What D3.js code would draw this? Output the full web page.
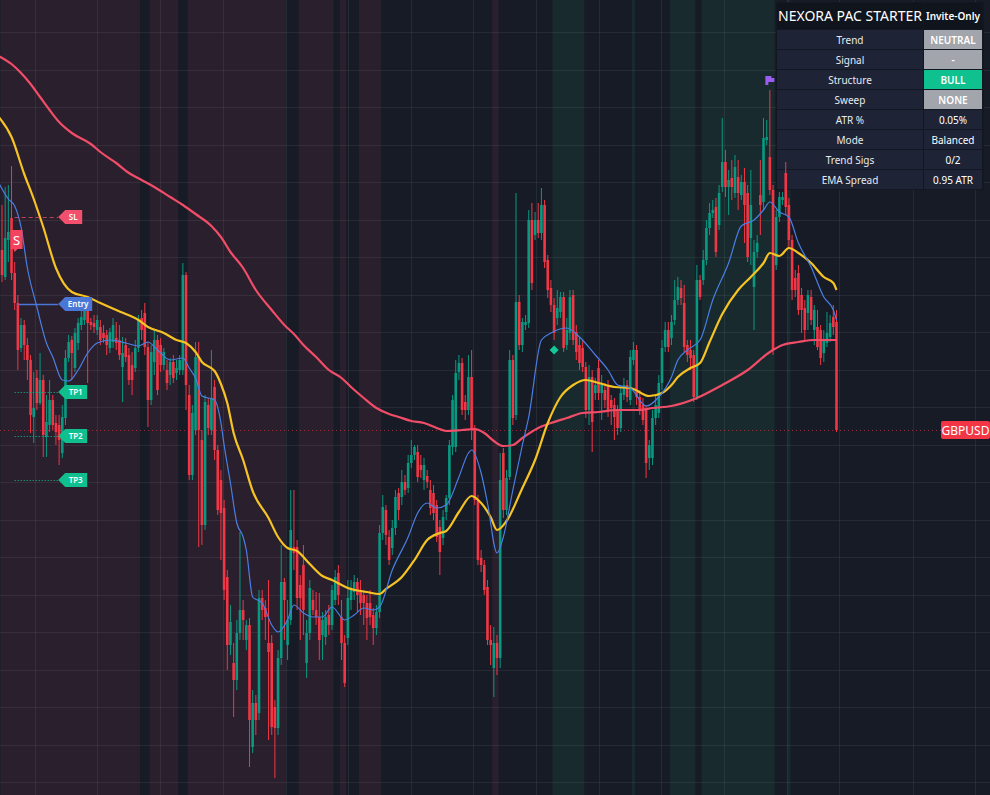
<!DOCTYPE html>
<html>
<head>
<meta charset="utf-8">
<style>
  body { margin: 0; background: #171b26; }
  svg { display: block; }
  text { font-family: "Noto Sans", "DejaVu Sans", sans-serif; }
</style>
</head>
<body>
<div id="chart"></div>
<script src="https://d3js.org/d3.v7.min.js"></script>
<script>
'use strict';

var width = 990,
    height = 795;

// GBPUSD candles, [open, high, low, close] in points above 1.27000 (1 pt = 0.00001)
var ohlc = [
  [550,595,518,525],[523,613,520,562],[560,615,538,568],[582,634,520,527],[527,538,490,497],
  [497,505,430,450],[452,482,448,475],[475,480,440,455],[455,462,420,440],[440,445,367,385],
  [383,428,357,392],[422,430,390,397],[397,447,395,420],[420,425,343,365],[363,405,343,378],
  [375,420,368,400],[400,405,370,375],[377,385,355,368],[375,385,335,360],[347,395,342,383],
  [382,450,375,442],[442,465,438,458],[460,464,420,447],[432,472,428,467],[457,482,450,477],
  [475,490,470,483],[480,500,475,495],[493,497,417,477],[478,482,470,475],[477,485,467,473],
  [470,485,465,480],[473,480,455,460],[467,475,457,462],[465,470,445,455],[452,472,447,468],
  [458,482,452,475],[462,478,450,457],[460,475,440,445],[433,463,398,447],[455,462,438,443],
  [445,452,415,420],[435,448,405,420],[432,460,428,452],[452,485,448,480],[482,490,460,470],
  [487,497,445,453],[453,458,373,400],[400,455,395,448],[438,470,425,460],[460,465,405,410],
  [455,462,428,435],[435,452,430,448],[430,440,410,417],[425,442,415,438],[438,445,417,422],
  [427,440,420,432],[430,445,425,440],[430,537,425,525],[525,528,390,415],[405,415,320,325],
  [325,395,320,387],[370,458,365,443],[443,458,253,370],[360,370,255,275],[275,405,270,398],
  [395,402,365,372],[370,450,365,402],[413,420,340,350],[350,355,285,290],[320,330,240,287],
  [292,300,200,210],[223,230,130,155],[155,195,145,178],[137,157,83,120],[120,180,110,167],
  [167,268,160,190],[190,200,160,180],[160,180,150,175],[175,182,33,80],[53,110,47,97],
  [97,105,65,80],[87,210,80,202],[202,210,180,190],[192,200,160,183],[157,220,60,148],
  [157,165,65,73],[93,100,22,72],[72,150,65,142],[142,255,135,218],[218,222,160,200],
  [155,200,140,180],[180,310,175,270],[253,310,230,247],[253,260,190,202],[215,225,160,202],
  [235,255,165,190],[137,180,122,167],[167,220,160,212],[200,210,185,190],[190,208,175,183],
  [183,207,140,160],[165,188,140,180],[163,190,155,183],[185,195,165,175],[175,215,170,210],
  [200,230,195,223],[227,235,195,205],[183,200,140,157],[157,165,113,117],[162,220,155,202],
  [200,220,190,210],[208,225,200,218],[218,222,188,205],[210,220,185,197],[205,210,175,197],
  [197,205,160,182],[197,210,175,183],[185,192,155,172],[172,195,165,188],[188,275,182,267],
  [267,305,260,293],[290,295,255,265],[263,270,235,240],[252,280,245,272],[272,310,265,303],
  [307,312,280,290],[303,330,295,318],[318,325,305,310],[312,345,307,337],[337,360,332,345],
  [345,355,340,353],[348,355,318,323],[335,345,322,330],[320,342,310,335],[324,330,312,318],
  [310,320,285,292],[307,315,280,287],[295,300,258,263],[273,280,225,248],[262,290,255,283],
  [288,305,280,302],[302,360,295,355],[353,405,345,400],[353,440,348,427],[428,445,420,437],
  [437,442,385,390],[398,405,380,390],[390,445,385,423],[423,450,360,370],[370,375,295,300],
  [300,305,235,240],[242,250,228,235],[235,240,205,210],[213,220,155,160],[160,175,135,155],
  [132,173,103,157],[157,165,125,142],[142,347,132,320],[347,352,282,290],[290,330,285,322],
  [323,450,320,440],[440,445,375,382],[385,607,380,498],[498,505,450,455],[455,482,448,478],
  [475,485,470,478],[477,590,472,580],[580,597,510,517],[565,588,560,580],[580,597,562,567],
  [567,612,560,595],[595,600,532,538],[540,545,502,510],[512,520,488,495],[495,502,460,467],
  [482,510,475,492],[488,508,482,503],[503,508,448,452],[455,482,450,470],[467,510,460,503],
  [505,510,455,460],[468,475,440,448],[455,462,430,437],[452,460,428,433],[433,438,382,390],
  [390,435,375,423],[423,430,348,378],[407,422,400,415],[432,440,400,407],[407,425,380,417],
  [410,417,392,400],[415,420,383,390],[400,405,375,392],[395,402,360,383],[390,395,365,372],
  [372,415,368,407],[405,422,400,415],[415,420,398,403],[400,450,395,443],[440,458,435,450],
  [450,455,395,403],[403,410,385,390],[395,402,375,380],[390,395,322,337],[342,360,330,355],
  [342,390,335,382],[382,405,375,395],[387,425,382,417],[417,460,410,452],[453,478,448,470],
  [470,478,448,453],[462,485,455,478],[480,520,475,500],[500,523,495,513],[512,520,495,502],
  [497,515,448,453],[455,460,438,445],[450,460,430,442],[445,450,398,403],[403,535,400,520],
  [520,525,500,503],[520,550,515,540],[540,580,535,572],[572,597,565,587],[587,600,582,590],
  [593,602,543,548],[575,615,570,607],[613,682,608,638],[638,650,603,613],[613,630,585,620],
  [622,640,600,613],[607,645,602,633],[623,640,590,607],[605,625,600,618],[618,632,557,595],
  [607,615,538,543],[562,630,535,595],[513,560,470,548],[548,565,542,557],[605,640,565,595],
  [598,682,590,662],[660,680,655,663],[643,710,605,610],[610,615,445,450],[535,590,530,583],
  [583,608,578,603],[600,608,595,603],[627,638,585,593],[595,602,552,560],[560,565,500,510],
  [522,530,503,510],[527,535,485,490],[505,512,467,490],[492,500,460,470],[487,510,470,505],
  [503,510,475,480],[470,495,455,490],[473,490,450,453],[470,475,435,442],[447,470,438,460],
  [457,488,453,467],[463,485,458,477],[483,495,465,473],[478,490,368,370]
];

// moving averages, [bar, pts]
var emaFast = [[-1,617],[2,601],[4,594],[6,573],[8,532],[11,493],[14,457],[16,443],[19,420],[21,419],
  [24,430],[27,447],[30,457],[34,460],[39,457],[43,454],[46,458],[49,450],[53,440],[57,442],
  [59,432],[61,422],[63,404],[67,400],[69,377],[70,355],[72,317],[74,277],[76,263],[77,250],
  [79,203],[82,197],[85,175],[87,168],[90,180],[92,195],[95,187],[98,183],[101,183],[104,193],
  [108,180],[111,185],[114,192],[117,190],[119,193],[123,230],[128,263],[131,287],[134,297],[137,292],
  [140,295],[144,323],[147,347],[148,350],[151,327],[153,297],[156,247],[158,263],[161,310],[164,355],
  [166,383],[170,460],[173,467],[178,472],[182,463],[187,445],[191,430],[194,415],[198,412],[203,394],
  [207,403],[211,423],[213,440],[216,450],[220,460],[224,500],[229,537],[233,574],[237,580],[240,590],
  [242,598],[245,588],[248,583],[251,557],[255,533],[259,503],[262,490],[263,480]];

var emaMid = [[-1,683],[3,663],[7,626],[10,601],[13,573],[17,532],[22,508],[27,503],[31,497],[36,490],
  [39,486],[43,480],[46,473],[51,467],[55,460],[58,457],[61,448],[63,438],[67,429],[69,416],
  [71,397],[73,367],[76,340],[79,309],[84,282],[87,263],[90,252],[93,249],[97,236],[101,224],
  [104,220],[109,212],[115,208],[119,206],[121,211],[126,223],[130,240],[134,260],[138,267],[140,269],
  [144,288],[148,304],[151,297],[154,283],[156,270],[159,279],[164,312],[168,340],[172,377],[176,403],
  [180,415],[184,420],[188,417],[193,413],[198,412],[204,404],[208,407],[211,415],[213,423],[217,432],
  [220,437],[223,458],[227,486],[232,510],[236,523],[240,537],[242,547],[245,544],[248,552],[251,547],
  [255,537],[259,523],[262,517],[263,510]];

var emaSlow = [[-1,744],[3,736],[6,727],[9,716],[12,703],[15,690],[18,678],[22,667],[28,656],[31,648],
  [36,637],[40,627],[44,620],[48,613],[53,603],[57,595],[61,586],[66,574],[69,563],[72,548],
  [76,532],[80,510],[85,490],[89,475],[92,466],[95,455],[99,443],[103,430],[107,422],[110,413],
  [114,402],[118,392],[122,386],[125,383],[129,379],[133,377],[137,372],[140,369],[145,370],[149,371],
  [152,367],[155,359],[158,354],[161,355],[164,362],[169,372],[173,377],[178,382],[183,387],[188,388],
  [194,390],[201,390],[205,392],[211,394],[219,402],[227,415],[235,430],[242,448],[246,455],[251,458],
  [256,460],[263,460]];

// trend state zones by bar range
var zones = [
  [0,43,'bear'],[47,55,'bear'],[59,89,'bear'],[94,104,'bear'],[107,108,'bear'],[113,119,'bear'],
  [155,156,'bear'],
  [174,183,'bull'],[199,199,'bull'],[211,218,'bull'],[221,243,'bull'],[248,248,'bull']
];

// time grid, in bar units
var timeGrid = [10.4, 29.9, 49.8, 69.65, 89.5, 109, 128.9, 148.4, 168.3, 188.2, 207.7, 227.6, 247.4, 263.8, 287.1, 306.6];

// trade levels
var levels = [
  {name: 'SL', pts: 583},
  {name: 'Entry', pts: 496},
  {name: 'TP1', pts: 408},
  {name: 'TP2', pts: 364},
  {name: 'TP3', pts: 320}
];
var levelFrom = 4, levelLabelAt = 17.7;

var sellSignal = {bar: 4.6, pts: 560, text: 'S'};
var bullMark = {bar: 174, pts: 450};
var sweepFlag = {bar: 242, pts: 720};

var tableTitle = ['NEXORA PAC STARTER', 'Invite-Only'];
var tableLabels = ['Trend', 'Signal', 'Structure', 'Sweep', 'ATR %', 'Mode', 'Trend Sigs', 'EMA Spread'];
var tableValues = ['NEUTRAL', '-', 'BULL', 'NONE', '0.05%', 'Balanced', '0/2', '0.95 ATR'];

var symbol = 'GBPUSD';

// ---------------------------------------------------------------

var svg = d3.select('#chart').append('svg')
    .attr('width', width).attr('height', height);

svg.append('rect').attr('width', width).attr('height', height).attr('fill', '#171b26');

var x = d3.scaleLinear().domain([0, ohlc.length - 1]).range([2, 836.5]);
var y = d3.scaleLinear().domain([0, 800]).range([800, 0]);
var step = x(1) - x(0);

// background zones
svg.append('g').selectAll('rect').data(zones).join('rect')
    .attr('x', d => Math.max(0, x(d[0]) - step / 2))
    .attr('width', d => x(d[1]) + step / 2 - Math.max(0, x(d[0]) - step / 2))
    .attr('y', 0).attr('height', height)
    .attr('fill', d => d[2] === 'bear' ? '#2a1f2d' : '#182a2d');

// grid
var grid = svg.append('g').attr('stroke', 'rgba(255,255,255,0.065)').attr('stroke-width', 1);
grid.selectAll('line.h').data(d3.range(18, 800, 37.5)).join('line').attr('class', 'h')
    .attr('x1', 0).attr('x2', width)
    .attr('y1', d => Math.round(y(d)) + 0.5).attr('y2', d => Math.round(y(d)) + 0.5);
grid.selectAll('line.v').data(timeGrid).join('line').attr('class', 'v')
    .attr('y1', 0).attr('y2', height)
    .attr('x1', d => Math.round(x(d)) + 0.5).attr('x2', d => Math.round(x(d)) + 0.5);

// info table
var tbl = svg.append('g');
tbl.append('rect').attr('x', 776).attr('y', 2).attr('width', 208).attr('height', 188).attr('fill', '#131722');
tbl.append('rect').attr('x', 777).attr('y', 3).attr('width', 146).attr('height', 26).attr('fill', '#10141d');
tbl.append('rect').attr('x', 924).attr('y', 3).attr('width', 58).attr('height', 26).attr('fill', '#10141d');
tbl.append('text').attr('x', 850).attr('y', 21).attr('text-anchor', 'middle')
    .attr('fill', '#ffffff').attr('font-size', 14).text(tableTitle[0]);
tbl.append('text').attr('x', 953).attr('y', 20).attr('text-anchor', 'middle')
    .attr('fill', '#ffffff').attr('font-size', 10).attr('font-weight', 600).text(tableTitle[1]);

function valueFill(v) {
  if (v === 'BULL') return '#0fc18e';
  if (v === 'NEUTRAL' || v === '-' || v === 'NONE') return '#a2a5ab';
  return '#1e2436';
}

var rows = tbl.selectAll('g.row').data(tableLabels).join('g').attr('class', 'row')
    .attr('transform', (d, i) => 'translate(0,' + (30 + i * 20) + ')');
rows.append('rect').attr('x', 777).attr('width', 146).attr('height', 19).attr('fill', '#1e2436');
rows.append('rect').attr('x', 924).attr('width', 58).attr('height', 19)
    .attr('fill', (d, i) => valueFill(tableValues[i]));
rows.append('text').attr('x', 850).attr('y', 13.5).attr('text-anchor', 'middle')
    .attr('fill', '#e8eaef').attr('font-size', 10).text(d => d);
rows.append('text').attr('x', 953).attr('y', 13.5).attr('text-anchor', 'middle')
    .attr('fill', '#ffffff').attr('font-size', 10)
    .attr('font-weight', (d, i) => valueFill(tableValues[i]) === '#1e2436' ? 400 : 600)
    .text((d, i) => tableValues[i]);

// last price line
var last = ohlc[ohlc.length - 1][3];
svg.append('line')
    .attr('x1', 0).attr('x2', 941).attr('y1', y(last) + 0.5).attr('y2', y(last) + 0.5)
    .attr('stroke', '#f23645').attr('stroke-width', 1).attr('stroke-dasharray', '1,3').attr('opacity', 0.6);

// candles
var up = '#089981', down = '#f23645';
var candles = svg.append('g').selectAll('g').data(ohlc).join('g');
candles.append('line')
    .attr('x1', (d, i) => x(i)).attr('x2', (d, i) => x(i))
    .attr('y1', d => y(d[1])).attr('y2', d => y(d[2]))
    .attr('stroke', d => d[3] >= d[0] ? up : down).attr('stroke-width', 1);
candles.append('rect')
    .attr('x', (d, i) => x(i) - 1.3).attr('width', 2.6)
    .attr('y', d => y(Math.max(d[0], d[3])))
    .attr('height', d => Math.max(1, Math.abs(y(d[0]) - y(d[3]))))
    .attr('fill', d => d[3] >= d[0] ? up : down);

// moving averages
var line = d3.line().x(d => x(d[0])).y(d => y(d[1])).curve(d3.curveMonotoneX);
svg.append('path').datum(emaSlow).attr('d', line).attr('fill', 'none')
    .attr('stroke', '#f24d68').attr('stroke-width', 2.2);
svg.append('path').datum(emaMid).attr('d', line).attr('fill', 'none')
    .attr('stroke', '#f6c324').attr('stroke-width', 2.2);
svg.append('path').datum(emaFast).attr('d', line).attr('fill', 'none')
    .attr('stroke', '#4a7fe3').attr('stroke-width', 1.2);

// trade levels
function levelColor(n) {
  if (n === 'SL') return '#f2506c';
  if (n === 'Entry') return '#4a76d6';
  return '#0fbf8e';
}
var lv = svg.append('g').selectAll('g').data(levels).join('g');
lv.append('line')
    .attr('x1', d => x(d.name === 'Entry' ? levelFrom + 1.2 : levelFrom)).attr('x2', x(levelLabelAt))
    .attr('y1', d => y(d.pts) + 0.5).attr('y2', d => y(d.pts) + 0.5)
    .attr('stroke', d => levelColor(d.name))
    .attr('stroke-width', d => d.name === 'Entry' ? 1.5 : 1)
    .attr('stroke-dasharray', d => d.name === 'SL' ? '4,3' : (d.name === 'Entry' ? null : '1,2'))
    .attr('opacity', d => d.name === 'SL' ? 0.75 : 1);
lv.append('path')
    .attr('d', function (d) {
      var tx = x(levelLabelAt), cy = y(d.pts), w = d.name === 'Entry' ? 34 : (d.name === 'SL' ? 24 : 29);
      return 'M' + tx + ',' + cy + 'L' + (tx + 7) + ',' + (cy - 7) + 'L' + (tx + w) + ',' + (cy - 7) +
             'L' + (tx + w) + ',' + (cy + 7) + 'L' + (tx + 7) + ',' + (cy + 7) + 'Z';
    })
    .attr('fill', d => levelColor(d.name));
lv.append('text')
    .attr('x', d => x(levelLabelAt) + (d.name === 'Entry' ? 20 : (d.name === 'SL' ? 15 : 17.5)))
    .attr('y', d => y(d.pts) + 3)
    .attr('text-anchor', 'middle').attr('fill', '#ffffff')
    .attr('font-size', 8).attr('font-weight', 600)
    .text(d => d.name);

// sell signal
var sx = x(sellSignal.bar), sy = y(sellSignal.pts);
svg.append('path')
    .attr('d', 'M' + (sx - 6) + ',' + (sy - 10) + 'h12v19h-5l-3,3l-1,-3h-3z')
    .attr('fill', '#f2445f');
svg.append('text').attr('x', sx).attr('y', sy + 5).attr('text-anchor', 'middle')
    .attr('fill', '#ffffff').attr('font-size', 13).text(sellSignal.text);

// structure mark
var bx = x(bullMark.bar), by = y(bullMark.pts);
svg.append('path').attr('d', 'M' + bx + ',' + (by - 4.5) + 'l4.5,4.5l-4.5,4.5l-4.5,-4.5z')
    .attr('fill', '#12c79a');

// sweep flag
var fx = x(sweepFlag.bar), fy = y(sweepFlag.pts);
svg.append('path')
    .attr('d', 'M' + (fx - 4.5) + ',' + (fy - 4) + 'h6v2h3v4h-6v3h-3z')
    .attr('fill', '#9d5cf0');

// symbol tag
svg.append('rect').attr('x', 941).attr('y', y(last) - 9).attr('width', 49).attr('height', 18)
    .attr('rx', 2).attr('fill', '#f23645');
svg.append('text').attr('x', 965.5).attr('y', y(last) + 4.5).attr('text-anchor', 'middle')
    .attr('fill', '#ffffff').attr('font-size', 12).text(symbol);
</script>
</body>
</html>
